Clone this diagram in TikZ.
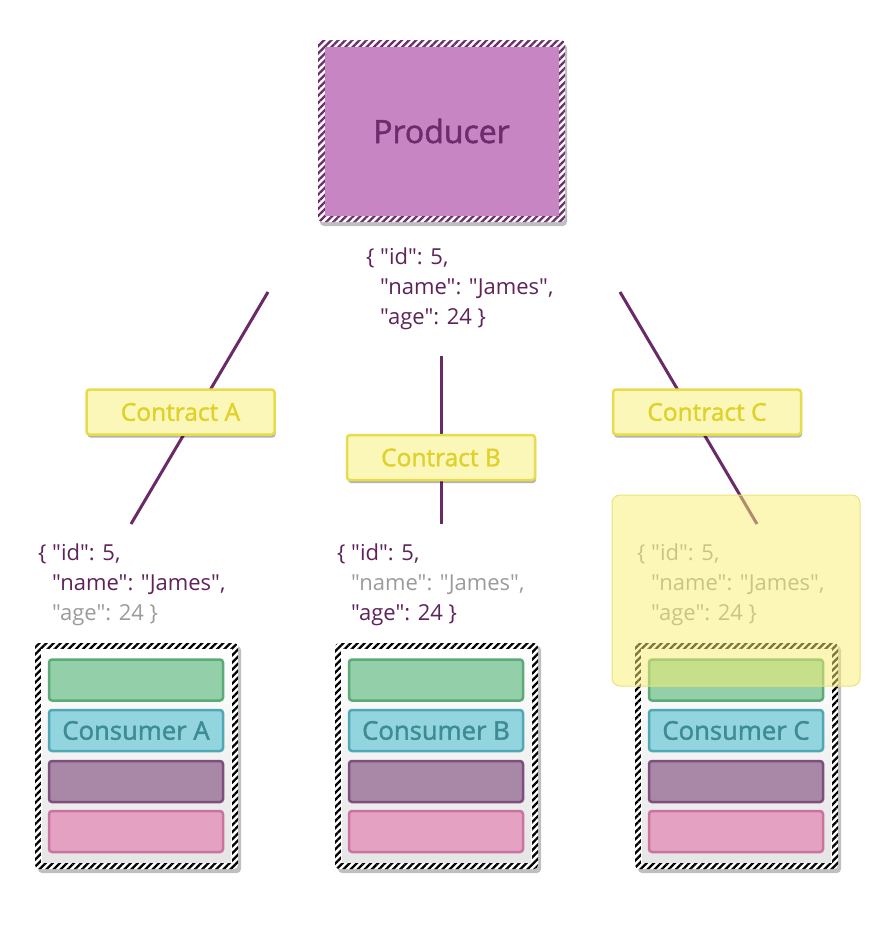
\documentclass[tikz,border=0pt]{standalone}
\usepackage{fontspec}
\setmainfont{Open Sans}[Ligatures=TeXOff]
\newfontfamily\semib{Open Sans}[Ligatures=TeXOff,FakeBold=1.6]
\usetikzlibrary{patterns.meta,shadows}

\definecolor{prodfill}{HTML}{C786C3}
\definecolor{prodtext}{HTML}{6E2C6E}
\definecolor{jsonpurple}{HTML}{5E2358}
\definecolor{jsongray}{HTML}{9C9A9A}
\definecolor{linkcol}{HTML}{6A2A68}
\definecolor{cfill}{HTML}{FBF7B9}
\definecolor{cborder}{HTML}{E6DC4E}
\definecolor{ctext}{HTML}{E0D12A}
\definecolor{hl}{HTML}{F9EF70}
\definecolor{hlborder}{HTML}{EBE27A}
\definecolor{gfill}{HTML}{93CFA8}\definecolor{gline}{HTML}{5BAA78}
\definecolor{tfill}{HTML}{93D5DE}\definecolor{tline}{HTML}{4FA8B3}
\definecolor{pfill}{HTML}{A987A6}\definecolor{pline}{HTML}{7E4F7C}
\definecolor{kfill}{HTML}{E5A1C2}\definecolor{kline}{HTML}{C9739E}
\definecolor{ctextcons}{HTML}{3D8B93}

\tikzset{
  hatch/.style={pattern={Lines[angle=45,distance=5pt,line width=2.3pt]},pattern color=#1},
  contract/.style={draw=cborder,fill=cfill,line width=2.5pt,rounded corners=3pt,
    minimum width=188pt,minimum height=45pt,inner sep=0pt,text=ctext,
    font=\semib\fontsize{24.5}{27}\selectfont,
    drop shadow={shadow xshift=1pt,shadow yshift=-3pt,opacity=0.3,fill=black}},
  bar/.style={line width=2.5pt,rounded corners=3pt,minimum width=174pt,
    minimum height=41pt,inner sep=0pt,text=ctextcons,
    font=\semib\fontsize{25.7}{28}\selectfont},
  json/.style={anchor=north west,align=left,inner sep=0pt,
    font=\fontsize{22}{30}\selectfont},
  link/.style={draw=linkcol,line width=3pt},
}

% one consumer stack: container with hatched rim, four coloured layers
\newcommand{\consumerstack}[3]{%
  \fill[black,opacity=0.25,rounded corners=4pt] (#1+3,646) rectangle (#1+206,873);
  \fill[white,rounded corners=4pt] (#1,643) rectangle (#1+203,869);
  \fill[hatch=black,rounded corners=4pt] (#1,643) rectangle (#1+203,869);
  \fill[white] (#1+6,649) rectangle (#1+197,863);
  \shade[top color=white,bottom color=black!10] (#1+7,650) rectangle (#1+196,862);
  \node[bar,draw=gline,fill=gfill] (#3g) at (#1+101,680) {};
  \node[bar,draw=tline,fill=tfill] (#3t) at (#1+101,730.5) {#2};
  \node[bar,draw=pline,fill=pfill] (#3p) at (#1+101,781.5) {};
  \node[bar,draw=kline,fill=kfill] (#3k) at (#1+101,831.5) {};
}

\begin{document}
\begin{tikzpicture}[x=1pt,y=-1pt]
\useasboundingbox (0,0) rectangle (885,930);

% producer
\fill[black,opacity=0.25,rounded corners=4pt] (320,44) rectangle (567,226);
\fill[white,rounded corners=4pt] (318,40) rectangle (565,222);
\fill[hatch=prodtext,rounded corners=4pt] (318,40) rectangle (565,222);
\node[fill=prodfill,minimum width=234pt,minimum height=169pt,inner sep=0pt,
  text=prodtext,font=\semib\fontsize{32}{36}\selectfont] (producer) at (441.5,131) {Producer};

% message sent by the producer
\node[json,text=jsonpurple] (msg) at (366,248)
  {\{ "id": 5,\\\hspace*{14pt}"name": "James",\\\hspace*{14pt}"age": 24 \}};

% connector end points
\coordinate (a1) at (268,292); \coordinate (a2) at (131,524);
\coordinate (b1) at (441,356); \coordinate (b2) at (441,524);
\coordinate (c1) at (620,292); \coordinate (c2) at (757,524);
\draw[link] (a1) -- (a2);
\draw[link] (b1) -- (b2);
\draw[link] (c1) -- (c2);

% contracts
\node[contract] (ca) at (180.5,412) {Contract A};
\node[contract] (cb) at (441,457.5) {Contract B};
\node[contract] (cc) at (707,412) {Contract C};

% what each consumer reads
\node[json] (ma) at (38,544)
  {\textcolor{jsonpurple}{\{ "id": 5,}\\\hspace*{14pt}\textcolor{jsonpurple}{"name": "James",}\\\hspace*{14pt}\textcolor{jsongray}{"age": 24 \}}};
\node[json] (mb) at (337,544)
  {\textcolor{jsonpurple}{\{ "id": 5,}\\\hspace*{14pt}\textcolor{jsongray}{"name": "James",}\\\hspace*{14pt}\textcolor{jsonpurple}{"age": 24 \}}};
\node[json] (mc) at (637,544)
  {\textcolor{jsongray}{\{ "id": 5,}\\\hspace*{14pt}\textcolor{jsongray}{"name": "James",}\\\hspace*{14pt}\textcolor{jsongray}{"age": 24 \}}};

% consumers
\consumerstack{35}{Consumer A}{A}
\consumerstack{335}{Consumer B}{B}
\consumerstack{635}{Consumer C}{C}

% highlight over contract C's output
\draw[draw=hlborder,fill=hl,fill opacity=0.5,line width=1pt,rounded corners=8pt]
  (612,495) rectangle (860,686);
\end{tikzpicture}
\end{document}
